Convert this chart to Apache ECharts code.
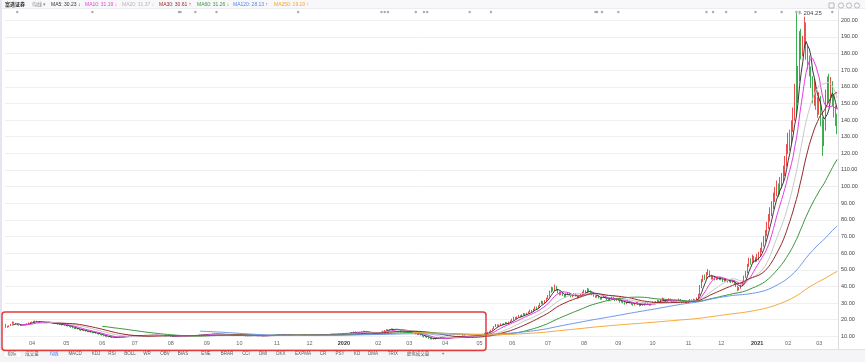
<!DOCTYPE html>
<html><head><meta charset="utf-8">
<script src="https://cdn.jsdelivr.net/npm/echarts@6/dist/echarts.min.js"></script>
<style>html,body{margin:0;padding:0;background:#fff;}#c{width:865px;height:362px;}</style>
</head><body><div id="c"></div>
<script>
// ---- data: [open, close, low, high] per trading day ----
const candles2019 = [
[16.2,16.0,15.1,17.5],[15.9,15.6,15.2,16.4],[15.7,16.3,15.5,16.6],[16.4,17.2,16.2,17.5],[17.3,18.4,17.1,18.9],[18.5,18.0,17.6,18.8],[17.9,17.3,17.1,18.1],[17.2,16.9,16.6,17.5],[16.9,16.7,16.4,17.1],[16.6,16.5,16.2,16.9],[16.4,16.8,16.3,17.0],[16.9,17.2,16.7,17.4],[17.3,17.0,16.8,17.5],[17.1,17.6,16.9,17.8],[17.6,18.1,17.4,18.3],[18.2,18.4,17.9,18.7],
[18.4,18.6,18.2,18.9],[18.7,18.9,18.4,19.3],[18.9,19.1,18.7,19.5],[19.2,18.8,18.6,19.4],[18.8,18.5,18.3,19.0],[18.5,18.9,18.3,19.1],[18.9,18.7,18.5,19.2],[18.7,18.3,18.1,18.9],[18.3,18.0,17.8,18.5],[18.0,18.4,17.9,18.6],[18.4,18.6,18.2,18.8],[18.6,18.2,18.0,18.7],[18.2,17.9,17.7,18.4],[17.9,17.6,17.4,18.1],[17.6,17.8,17.4,18.0],[17.8,17.5,17.3,18.0],[17.5,17.2,17.0,17.7],[17.2,17.0,16.8,17.4],[17.0,16.8,16.5,17.2],[16.8,17.1,16.7,17.3],[17.1,16.6,16.4,17.2],
[16.5,16.2,16.0,16.8],[16.2,16.5,16.0,16.7],[16.4,15.9,15.7,16.6],[15.8,15.4,15.2,16.0],[15.4,15.0,14.8,15.6],[15.0,14.6,14.4,15.2],[14.6,14.9,14.4,15.1],[14.9,14.3,14.1,15.0],[14.3,13.8,13.6,14.4],[13.8,13.5,13.3,14.0],[13.5,13.9,13.4,14.1],[13.9,13.4,13.2,14.0],[13.4,13.0,12.8,13.5],[13.0,12.7,12.5,13.2],[12.7,12.9,12.5,13.1],[12.9,12.4,12.2,13.0],[12.4,12.0,11.8,12.5],[12.0,12.3,11.9,12.5],[12.3,11.8,11.6,12.4],[11.8,11.5,11.3,11.9],[11.5,11.2,11.0,11.7],[11.2,11.0,10.8,11.4],
[10.9,10.6,10.4,11.0],[10.6,10.2,10.0,10.7],[10.2,9.9,9.7,10.3],[9.9,9.6,9.4,10.0],[9.6,9.8,9.5,10.0],[9.8,9.5,9.3,9.9],[9.5,9.3,9.1,9.6],[9.3,9.6,9.2,9.7],[9.6,9.4,9.2,9.7],[9.4,9.2,9.0,9.5],[9.2,9.5,9.1,9.6],[9.5,9.8,9.4,9.9],[9.8,9.6,9.5,9.9],[9.6,9.9,9.5,10.0],[9.9,10.2,9.8,10.3],[10.2,10.0,9.9,10.3],[10.0,10.3,9.9,10.4],[10.3,10.1,10.0,10.4],[10.1,10.4,10.0,10.5],[10.4,10.2,10.1,10.5],
[10.2,10.3,10.1,10.4],[10.3,10.5,10.2,10.6],[10.5,10.4,10.3,10.6],[10.4,10.6,10.3,10.7],[10.6,10.3,10.2,10.7],[10.3,10.5,10.2,10.6],[10.5,10.8,10.4,10.9],[10.8,10.6,10.5,10.9],[10.6,10.4,10.3,10.7],[10.4,10.7,10.3,10.8],[10.7,10.9,10.6,11.0],[10.9,10.6,10.5,11.0],[10.6,10.5,10.4,10.7],[10.5,10.8,10.4,10.9],[10.8,10.6,10.5,10.9],[10.6,10.4,10.3,10.7],[10.4,10.3,10.2,10.5],[10.3,10.5,10.2,10.6],[10.5,10.2,10.1,10.6],[10.2,10.4,10.1,10.5],[10.4,10.6,10.3,10.7],[10.6,10.3,10.2,10.7],
[10.3,10.0,9.9,10.4],[10.0,9.8,9.6,10.1],[9.8,10.1,9.7,10.2],[10.1,9.9,9.8,10.2],[9.9,10.2,9.8,10.3],[10.2,10.4,10.1,10.5],[10.4,10.1,10.0,10.5],[10.1,10.3,10.0,10.4],[10.3,10.0,9.9,10.4],[10.0,10.2,9.9,10.3],[10.2,10.5,10.1,10.6],[10.5,10.3,10.2,10.6],[10.3,10.6,10.2,10.7],[10.6,10.4,10.3,10.7],[10.4,10.7,10.3,10.8],[10.7,10.5,10.4,10.8],[10.5,10.8,10.4,10.9],[10.8,10.6,10.5,10.9],[10.6,10.9,10.5,11.0],[10.9,11.1,10.8,11.2],[11.1,10.8,10.7,11.2],[10.8,11.0,10.7,11.1],
[11.0,11.2,10.9,11.3],[11.2,11.4,11.1,11.5],[11.4,11.1,11.0,11.5],[11.1,11.3,11.0,11.4],[11.3,11.6,11.2,11.7],[11.6,11.4,11.3,11.7],[11.4,11.2,11.1,11.5],[11.2,11.5,11.1,11.6],[11.5,11.3,11.2,11.6],[11.3,11.0,10.9,11.4],[11.0,11.2,10.9,11.3],[11.2,10.9,10.8,11.3],[10.9,11.1,10.8,11.2],[11.1,10.8,10.7,11.2],[10.8,11.0,10.7,11.1],[11.0,10.7,10.6,11.1],[10.7,10.9,10.6,11.0],[10.9,10.6,10.5,11.0],[10.6,10.8,10.5,10.9],[10.8,10.5,10.4,10.9],
[10.5,10.4,10.3,10.6],[10.4,10.6,10.3,10.7],[10.6,10.3,10.2,10.7],[10.3,10.5,10.2,10.6],[10.5,10.2,10.1,10.6],[10.2,10.4,10.1,10.5],[10.4,10.6,10.3,10.7],[10.6,10.3,10.2,10.7],[10.3,10.5,10.2,10.6],[10.5,10.7,10.4,10.8],[10.7,10.4,10.3,10.8],[10.4,10.2,10.1,10.5],[10.2,10.5,10.1,10.6],[10.5,10.3,10.2,10.6],[10.3,10.1,10.0,10.4],[10.1,10.4,10.0,10.5],[10.4,10.6,10.3,10.7],[10.6,10.3,10.2,10.7],[10.3,10.5,10.2,10.6],[10.5,10.8,10.4,10.9],[10.8,10.6,10.5,10.9],[10.6,10.9,10.5,11.0],[10.9,10.7,10.6,11.0],
[10.7,10.8,10.6,10.9],[10.8,11.0,10.7,11.1],[11.0,10.7,10.6,11.1],[10.7,10.9,10.6,11.0],[10.9,11.2,10.8,11.3],[11.2,10.9,10.8,11.3],[10.9,11.1,10.8,11.2],[11.1,10.8,10.7,11.2],[10.8,10.6,10.5,10.9],[10.6,10.9,10.5,11.0],[10.9,10.7,10.6,11.0],[10.7,10.5,10.4,10.8],[10.5,10.8,10.4,10.9],[10.8,10.6,10.5,10.9],[10.6,10.9,10.5,11.0],[10.9,11.1,10.8,11.2],[11.1,10.8,10.7,11.2],[10.8,11.0,10.7,11.1],[11.0,10.7,10.6,11.1],[10.7,10.9,10.6,11.0],
[10.9,10.8,10.7,11.0],[10.8,11.0,10.7,11.1],[11.0,10.7,10.6,11.1],[10.7,10.9,10.6,11.0],[10.9,11.1,10.8,11.2],[11.1,10.8,10.7,11.2],[10.8,11.0,10.7,11.1],[11.0,11.3,10.9,11.4],[11.3,11.1,11.0,11.4],[11.1,10.9,10.8,11.2],[10.9,11.2,10.8,11.3],[11.2,11.0,10.9,11.3],[11.0,11.3,10.9,11.4],[11.3,11.5,11.2,11.6],[11.5,11.2,11.1,11.6],[11.2,11.4,11.1,11.5],[11.4,11.1,11.0,11.5],[11.1,11.3,11.0,11.4],[11.3,11.6,11.2,11.7],[11.6,11.4,11.3,11.7],[11.4,11.7,11.3,11.8]
];
const candles2020 = [
[11.7,11.8,11.6,11.9],[11.8,12.0,11.7,12.1],[12.0,11.7,11.6,12.1],[11.7,11.9,11.6,12.0],[11.9,12.2,11.8,12.3],[12.2,12.5,12.1,12.6],[12.5,12.8,12.4,12.9],[12.8,12.4,12.3,12.9],[12.4,12.1,12.0,12.5],[12.1,12.3,12.0,12.4],[12.3,12.6,12.2,12.7],[12.6,12.9,12.5,13.0],[12.9,13.2,12.8,13.4],[13.2,12.8,12.7,13.3],[12.8,12.5,12.4,12.9],[12.5,12.2,12.1,12.6],[12.2,12.0,11.9,12.3],[12.0,11.8,11.7,12.1],[11.8,11.6,11.5,11.9],[11.6,11.9,11.5,12.0],[11.9,11.7,11.6,12.0],
[11.7,12.0,11.6,12.1],[12.0,12.4,11.9,12.5],[12.4,12.8,12.3,12.9],[12.8,13.3,12.7,13.4],[13.3,13.7,13.2,13.8],[13.7,14.1,13.6,14.3],[14.1,13.8,13.7,14.2],[13.8,14.3,13.7,14.4],[14.3,14.6,14.2,14.8],[14.6,14.2,14.1,14.7],[14.2,13.9,13.8,14.3],[13.9,14.4,13.8,14.5],[14.4,14.0,13.9,14.5],[14.0,13.7,13.6,14.1],[13.7,13.3,13.2,13.8],[13.3,13.6,13.2,13.7],[13.6,13.2,13.1,13.7],[13.2,12.9,12.8,13.3],[12.9,12.5,12.4,13.0],
[12.5,12.8,12.3,13.0],[12.8,12.3,12.1,12.9],[12.3,12.6,12.1,12.8],[12.6,12.0,11.8,12.7],[12.0,11.5,11.3,12.1],[11.5,11.0,10.7,11.6],[11.0,11.4,10.8,11.6],[11.4,10.8,10.5,11.5],[10.8,10.2,9.9,10.9],[10.2,9.6,9.3,10.3],[9.6,10.1,9.4,10.3],[10.1,9.3,9.1,10.2],[9.3,8.8,8.5,9.5],[8.8,8.4,8.1,9.0],[8.4,8.9,8.2,9.1],[8.9,8.3,8.0,9.0],[8.3,8.7,8.1,8.9],[8.7,9.2,8.6,9.4],[9.2,8.9,8.7,9.4],[8.9,9.4,8.8,9.6],[9.4,9.1,8.9,9.5],[9.1,8.8,8.6,9.2],
[8.8,8.6,8.4,8.9],[8.6,8.9,8.5,9.0],[8.9,9.2,8.8,9.3],[9.2,9.0,8.9,9.3],[9.0,9.4,8.9,9.5],[9.4,9.7,9.3,9.8],[9.7,9.5,9.4,9.8],[9.5,9.9,9.4,10.0],[9.9,10.2,9.8,10.3],[10.2,9.8,9.7,10.3],[9.8,10.1,9.7,10.2],[10.1,10.4,10.0,10.5],[10.4,10.0,9.9,10.5],[10.0,9.7,9.6,10.1],[9.7,10.0,9.6,10.1],[10.0,10.3,9.9,10.4],[10.3,10.1,10.0,10.4],[10.1,10.4,10.0,10.5],[10.4,10.2,10.1,10.5],[10.2,10.5,10.1,10.6],[10.5,10.3,10.2,10.6],
[10.3,10.6,10.2,10.8],[10.6,10.9,10.5,11.1],[10.9,11.3,10.8,11.5],[11.3,11.8,11.2,12.0],[11.8,12.4,11.7,12.6],[12.4,12.2,11.9,12.7],[12.2,12.9,12.1,13.1],[12.9,13.6,12.8,13.9],[13.6,14.5,13.4,14.8],[14.5,15.8,14.3,16.2],[15.8,16.9,15.6,17.4],[16.9,16.2,15.9,17.2],[16.2,16.8,16.0,17.1],[16.8,17.4,16.6,17.8],[17.4,16.9,16.6,17.6],[16.9,17.6,16.8,17.9],[17.6,18.3,17.4,18.7],[18.3,17.8,17.5,18.5],[17.8,18.5,17.7,18.9],[18.5,19.2,18.3,19.6],
[19.4,20.1,19.1,20.6],[20.1,21.3,19.9,21.8],[21.3,20.8,20.4,21.7],[20.8,21.6,20.6,22.0],[21.6,22.4,21.4,22.9],[22.4,21.9,21.5,22.7],[21.9,22.8,21.7,23.2],[22.8,23.6,22.6,24.1],[23.6,22.9,22.5,23.9],[22.9,23.8,22.7,24.2],[23.8,24.5,23.5,25.0],[24.5,25.6,24.3,26.1],[25.6,24.8,24.4,25.9],[24.8,26.2,24.6,26.7],[26.2,27.4,25.9,28.0],[27.4,26.8,26.3,27.9],[26.8,28.1,26.6,28.7],[28.1,29.6,27.9,30.2],[29.6,30.8,29.2,31.5],[30.8,29.9,29.4,31.2],[29.9,31.2,29.7,31.8],[31.2,32.5,30.9,33.2],
[32.5,34.1,32.2,34.8],[34.1,36.8,33.8,37.5],[36.8,38.9,36.2,39.8],[38.9,37.6,37.0,39.5],[37.6,39.8,37.3,41.2],[39.8,38.2,37.6,40.4],[38.2,36.5,36.0,38.6],[36.5,35.1,34.6,36.9],[35.1,36.4,34.8,36.9],[36.4,34.8,34.3,36.7],[34.8,33.6,33.1,35.2],[33.6,35.2,33.3,35.8],[35.2,36.1,34.8,36.7],[36.1,34.9,34.5,36.4],[34.9,33.8,33.4,35.3],[33.8,34.6,33.5,35.1],[34.6,35.5,34.3,36.0],[35.5,34.2,33.9,35.8],[34.2,33.1,32.8,34.5],[33.1,34.0,32.9,34.6],[34.0,35.3,33.8,35.8],[35.3,36.2,35.0,36.9],
[36.2,37.4,35.9,38.1],[37.4,36.1,35.7,37.8],[36.1,38.3,35.9,39.0],[38.3,37.2,36.8,38.7],[37.2,36.0,35.6,37.5],[36.0,35.1,34.7,36.4],[35.1,34.2,33.8,35.5],[34.2,33.5,33.1,34.6],[33.5,34.4,33.2,34.9],[34.4,33.1,32.8,34.7],[33.1,32.4,32.0,33.5],[32.4,33.3,32.1,33.8],[33.3,34.1,33.0,34.6],[34.1,33.2,32.9,34.4],[33.2,32.1,31.8,33.5],[32.1,31.5,31.1,32.4],[31.5,32.6,31.3,33.0],[32.6,33.4,32.3,33.9],[33.4,32.2,31.9,33.7],[32.2,31.6,31.2,32.5],[31.6,32.5,31.4,32.9],
[32.5,31.8,31.4,32.8],[31.8,30.6,30.2,32.0],[30.6,31.4,30.3,31.9],[31.4,30.2,29.8,31.6],[30.2,29.5,29.1,30.5],[29.5,30.4,29.3,30.9],[30.4,31.2,30.1,31.7],[31.2,30.1,29.8,31.4],[30.1,29.3,28.9,30.4],[29.3,28.8,28.4,29.6],[28.8,29.6,28.6,30.0],[29.6,30.4,29.4,30.9],[30.4,29.2,28.9,30.6],[29.2,28.4,28.0,29.5],[28.4,29.1,28.2,29.5],[29.1,28.6,28.3,29.4],[28.6,29.5,28.4,29.9],[29.5,30.2,29.2,30.7],[30.2,29.4,29.1,30.5],[29.4,28.7,28.4,29.7],[28.7,29.8,28.5,30.2],
[29.8,30.5,29.6,31.0],[30.5,29.6,29.2,30.8],[29.6,30.8,29.4,31.2],[30.8,31.5,30.5,32.0],[31.5,30.6,30.2,31.8],[30.6,31.9,30.4,32.3],[31.9,32.7,31.6,33.3],[32.7,31.8,31.4,33.0],[31.8,30.9,30.5,32.1],[30.9,31.6,30.7,32.0],[31.6,32.4,31.3,32.9],[32.4,31.2,30.9,32.7],[31.2,30.4,30.0,31.5],[30.4,31.3,30.2,31.7],[31.3,30.6,30.3,31.6],[30.6,31.4,30.4,31.8],[31.4,32.2,31.1,32.7],[32.2,31.1,30.8,32.5],[31.1,30.3,29.9,31.4],[30.3,31.0,30.1,31.4],[31.0,30.2,29.8,31.3],[30.2,30.6,29.9,31.2],
[30.6,31.2,30.2,31.8],[31.2,31.8,30.8,32.4],[31.8,31.1,30.6,32.2],[31.1,32.0,30.9,32.6],[32.0,31.4,30.9,32.3],[31.4,32.6,31.1,33.4],[32.6,34.8,32.3,35.6],[34.8,39.6,34.5,40.8],[39.6,43.2,39.0,44.5],[43.2,45.8,42.6,46.9],[45.8,44.6,43.8,47.2],[44.6,47.5,44.2,48.6],[47.5,48.9,46.8,50.4],[48.9,46.3,45.5,49.6],[46.3,44.8,44.1,47.0],[44.8,45.9,44.2,46.6],[45.9,44.2,43.6,46.3],[44.2,45.3,43.9,45.9],[45.3,44.6,44.1,45.8],[44.6,45.1,43.8,45.7],
[45.1,44.2,43.7,45.8],[44.2,43.1,42.6,44.6],[43.1,44.6,42.8,45.2],[44.6,43.5,43.0,44.9],[43.5,42.8,42.3,43.9],[42.8,43.9,42.5,44.4],[43.9,42.6,42.1,44.2],[42.6,43.4,42.2,43.9],[43.4,41.8,41.3,43.6],[41.8,40.2,39.6,42.1],[40.2,38.1,37.2,40.5],[38.1,38.9,37.6,39.6],[38.9,40.5,38.6,41.1],[40.5,42.8,40.2,43.5],[42.8,45.6,42.4,46.5],[45.6,48.3,45.1,49.4],[48.3,52.4,47.9,53.6],[52.4,55.8,51.8,57.2],[55.8,54.2,53.1,56.9],[54.2,57.6,53.8,59.1],[57.6,55.1,54.3,58.4],[55.1,56.3,54.6,57.5]
];
const candles2021 = [
[56.3,57.2,54.8,59.6],[57.2,58.9,55.6,60.8],[58.9,61.5,57.8,63.2],[61.5,64.8,60.6,66.5],[64.8,68.2,63.9,70.4],[68.2,71.6,66.8,73.9],[71.6,76.4,70.2,78.8],[76.4,80.2,74.6,83.5],[80.2,84.5,78.9,87.6],[84.5,88.6,82.3,91.2],[88.6,93.2,86.5,96.4],[93.2,96.8,90.8,99.7],[96.8,99.5,94.2,103.6],[99.5,97.2,93.8,101.9],[97.2,101.6,95.1,105.8],[101.6,104.3,98.7,108.2],[104.3,108.9,102.5,112.6],[108.9,114.6,106.3,118.4],[114.6,121.3,112.2,125.5],
[121.3,128.6,119.5,132.4],[128.6,126.2,121.5,134.2],[126.2,135.6,124.8,139.8],[135.6,141.3,132.8,147.5],[141.3,154.2,139.6,161.8],[188.5,152.4,141.9,204.25],[152.4,166.8,150.2,172.5],[166.8,189.5,163.2,193.4],[189.5,181.2,176.4,194.8],[181.2,186.4,178.3,190.6],[186.4,198.2,183.5,202.1],[196.5,180.6,176.2,198.7],[180.6,176.3,170.4,184.5],[176.3,171.5,166.2,178.8],[171.5,163.6,159.3,172.2],[163.6,156.2,150.1,166.4],[156.2,160.5,148.6,164.8],[160.5,149.8,146.2,162.6],[149.8,145.6,141.3,153.9],
[145.6,152.4,143.2,156.8],[152.4,139.3,136.2,154.5],[139.3,128.7,118.5,141.6],[128.7,136.5,124.3,140.2],[136.5,152.8,133.6,158.4],[152.8,160.6,149.8,166.2],[160.6,154.3,150.5,167.8],[154.3,161.2,152.6,165.9],[161.2,152.5,148.4,163.4],[152.5,145.3,141.6,155.2],[145.3,139.6,136.4,148.7],[139.6,134.2,131.5,143.8]
];
const startDate = '2019-03-08';
const holidays = ['2019-04-19','2019-05-27','2019-07-04','2019-09-02','2019-11-28','2019-12-25','2020-01-01','2020-01-20','2020-02-17','2020-04-10','2020-05-25','2020-07-03','2020-09-07','2020-11-26','2020-12-25','2021-01-01','2021-01-18','2021-02-15'];
const maPeriods = [5,10,20,30,60,120,250];
const maColors = ['#3a3a3a','#e33fe3','#c9c9c9','#962a2a','#3b973b','#6e98ea','#f5aa3c'];
const legendItems = [
  ['MA5: 30.23 ↓','#333333',51],['MA10: 31.19 ↓','#e33fe3',85],['MA20: 31.37 ↓','#b5b5b5',122],
  ['MA30: 30.61 ↑','#962a2a',159],['MA60: 31.26 ↓','#3b973b',197],['MA120: 28.13 ↑','#4f86e8',233],['MA250: 19.19 ↑','#f5a623',274]
];
const eventIdx = [7,53,106,107,116,129,179,230,232,234,251,256,258,284,297,361,362,365,375,429,433,441,459,475,484,486,506];
const tabs = ['指标','成交量','均线','MACD','KDJ','RSI','BOLL','WR','OBV','BIAS','ENE','BRAR','CCI','DMI','DKX','EXPMA','CR','PSY','KD','DMA','TRIX','虚拟成交量','+'];
const tabX = [12,32,54,75,96,112,130,147,165,183,206,227,246,263,281,303,323,340,357,373,393,418,443];

// ---- build ----
const candles = candles2019.concat(candles2020, candles2021);
const dates = [];
(function(){
  let d = new Date(startDate + 'T00:00:00Z');
  while (dates.length < candles.length) {
    const s = d.toISOString().slice(0,10);
    const wd = d.getUTCDay();
    if (wd !== 0 && wd !== 6 && holidays.indexOf(s) < 0) dates.push(s);
    d = new Date(d.getTime() + 86400000);
  }
})();
const closes = candles.map(c => c[1]);
function ma(n){
  return closes.map((c,i) => {
    if (i < n-1) return null;
    let s = 0; for (let k=i-n+1;k<=i;k++) s += closes[k];
    return +(s/n).toFixed(3);
  });
}
let maxIdx = 0; candles.forEach((c,i)=>{ if (c[3] > candles[maxIdx][3]) maxIdx = i; });
const FONT = '"Liberation Sans","Noto Sans CJK SC",sans-serif';

const chart = echarts.init(document.getElementById('c'), null, {renderer:'canvas'});
const series = [{
  type:'candlestick', data: candles, barWidth:'70%',
  itemStyle:{color:'#ec4d4d',color0:'#3fae55',borderColor:'#ec4d4d',borderColor0:'#3fae55',borderWidth:1},
  markPoint:{
    symbol:'rect', symbolSize:[0.1,0.1], silent:true,
    label:{show:true,position:'right',distance:1,formatter:'←'+candles[maxIdx][3].toFixed(2),fontSize:6,color:'#444',fontFamily:FONT},
    data:[{coord:[maxIdx, candles[maxIdx][3]]}]
  },
  z:3
}];
maPeriods.forEach((n,i)=>{
  series.push({type:'line',name:'MA'+n,data:ma(n),showSymbol:false,symbol:'none',
    lineStyle:{width:1,color:maColors[i]},itemStyle:{color:maColors[i]},z:4,silent:true});
});
series.push({type:'scatter',data:eventIdx.map(i=>[i,204.9]),symbol:'circle',symbolSize:2.5,
  itemStyle:{color:'#9a9a9a'},silent:true,z:5});

const graphics = [
  {type:'rect',shape:{x:0,y:0,width:865,height:8.5},style:{fill:'#f8f8fa'},z:-1},
  {type:'line',shape:{x1:0,y1:8.5,x2:865,y2:8.5},style:{stroke:'#ececf0',lineWidth:1}},
  {type:'rect',shape:{x:0,y:0,width:2,height:362},style:{fill:'#e6e4ef'}},
  {type:'text',x:5,y:4.8,style:{text:'富途证券',font:'bold 5px '+FONT,fill:'#222',verticalAlign:'middle'}},
  {type:'text',x:32,y:4.8,style:{text:'均线 ▾',font:'5px '+FONT,fill:'#8a8a8a',verticalAlign:'middle'}},
  {type:'rect',shape:{x:0,y:349,width:865,height:13},style:{fill:'#f5f5f7'}},
  {type:'line',shape:{x1:0,y1:349.5,x2:865,y2:349.5},style:{stroke:'#e2e2e6',lineWidth:1}},
  {type:'rect',shape:{x:4,y:350.5,width:17,height:7},style:{fill:'#ffffff',stroke:'#e6e6ea',lineWidth:0.5}},
  {type:'rect',shape:{x:2,y:312,width:484,height:38.5,r:3},style:{fill:'none',stroke:'#e23b3b',lineWidth:1.5},z:50},
  {type:'rect',shape:{x:829,y:3,width:5,height:5},style:{fill:'none',stroke:'#aaa',lineWidth:0.8}},
  {type:'circle',shape:{cx:841,cy:5.5,r:2.6},style:{fill:'none',stroke:'#aaa',lineWidth:0.8}},
  {type:'circle',shape:{cx:849,cy:5.5,r:2.6},style:{fill:'none',stroke:'#aaa',lineWidth:0.8}},
  {type:'circle',shape:{cx:857,cy:5.5,r:2.6},style:{fill:'none',stroke:'#aaa',lineWidth:0.8}}
];
legendItems.forEach(it=>{
  graphics.push({type:'text',x:it[2],y:4.8,style:{text:it[0],font:'5px '+FONT,fill:it[1],verticalAlign:'middle'}});
});
tabs.forEach((t,i)=>{
  graphics.push({type:'text',x:tabX[i],y:354,style:{text:t,font:'4.5px '+FONT,fill:(t==='均线'?'#3b7cf0':'#555'),align:'center',verticalAlign:'middle'}});
});

chart.setOption({
  animation:false,
  backgroundColor:'#fff',
  grid:{left:5,right:27,top:9.6,bottom:13},
  xAxis:{
    type:'category', data:dates, boundaryGap:true,
    axisLine:{show:false}, axisTick:{show:false}, splitLine:{show:false},
    axisLabel:{
      inside:true, margin:3, fontSize:5.5, color:'#666', fontFamily:FONT, verticalAlign:'bottom',
      interval:function(i,v){ return i>0 && dates[i-1].slice(5,7) !== v.slice(5,7); },
      formatter:function(v){ const m=v.slice(5,7); return m==='01' ? '{y|'+v.slice(0,4)+'}' : m; },
      rich:{y:{fontWeight:'bold',color:'#333',fontSize:5.5,fontFamily:FONT}}
    }
  },
  yAxis:{
    type:'value', position:'right', min:2.4, max:206.37, splitNumber:20, scale:false,
    axisLine:{show:true,lineStyle:{color:'#dcdce0'}}, axisTick:{show:false},
    axisLabel:{fontSize:5.5,color:'#444',fontFamily:FONT,margin:3,showMinLabel:false,showMaxLabel:false,
      formatter:function(v){return v.toFixed(2);}},
    splitLine:{show:true,showMinLine:false,showMaxLine:false,lineStyle:{color:'#efeff2',width:1}}
  },
  series:series,
  graphic:graphics
});
</script>
</body></html>
